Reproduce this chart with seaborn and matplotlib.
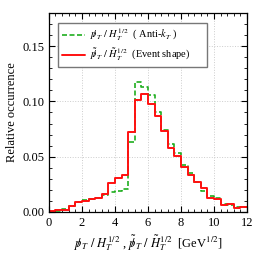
import matplotlib
matplotlib.use("Agg")
import matplotlib.pyplot as plt
from matplotlib.lines import Line2D
from matplotlib.ticker import MultipleLocator
import pandas as pd
import seaborn as sns

# bin edges: 0 .. 12 in steps of 0.4
bin_edges = [round(0.4 * i, 2) for i in range(31)]
bin_centres = [round(0.4 * i + 0.2, 2) for i in range(30)]

# anti-kT (green dashed)
antikt = [0.000, 0.001, 0.003, 0.005, 0.009, 0.011, 0.012, 0.013, 0.015, 0.018,
          0.019, 0.021, 0.063, 0.118, 0.113, 0.106, 0.090, 0.074, 0.061, 0.053,
          0.042, 0.035, 0.027, 0.019, 0.0145, 0.013, 0.0075, 0.0066, 0.004, 0.0045]
# event shape (red solid)
evshape = [0.001, 0.0015, 0.002, 0.0057, 0.009, 0.010, 0.012, 0.013, 0.016, 0.026,
           0.031, 0.033, 0.0725, 0.1015, 0.107, 0.098, 0.087, 0.0733, 0.058, 0.0506,
           0.0406, 0.033, 0.0275, 0.0212, 0.0127, 0.012, 0.006, 0.0075, 0.0036, 0.0045]

# slashed p
MPT = r"p\!\!\!/\,"
labels = [r"$%s_T\ /\ H_T^{1/2}$  ( Anti-$k_T$ )" % MPT,
          r"$\tilde{%s}_T\ /\ \tilde{H}_T^{1/2}$  (Event shape)      " % MPT]
xlabel = r"$%s_T\ /\ H_T^{1/2}$ , $\tilde{%s}_T\ /\ \tilde{H}_T^{1/2}$  [GeV$^{1/2}$]" % (MPT, MPT)

df = pd.DataFrame({"x": bin_centres + bin_centres,
                   "w": antikt + evshape,
                   "algo": ["antikt"] * len(antikt) + ["evshape"] * len(evshape)})

sns.set_style("ticks")
plt.rcParams["font.family"] = ["Liberation Serif", "DejaVu Serif"]
plt.rcParams["mathtext.fontset"] = "stix"
plt.rcParams["text.color"] = "black"
plt.rcParams["axes.labelcolor"] = "black"
plt.rcParams["xtick.color"] = "black"
plt.rcParams["ytick.color"] = "black"
plt.rcParams["axes.edgecolor"] = "black"

fig = plt.figure(figsize=(2.6, 2.6), dpi=100)
ax = fig.add_axes([0.188, 0.185, 0.762, 0.765])

sns.histplot(data=df[df.algo == "antikt"], x="x", weights="w", bins=bin_edges,
             element="step", fill=False, color="#1fae1f", linestyle=(0, (3, 1.5)),
             linewidth=1.2, ax=ax)
sns.histplot(data=df[df.algo == "evshape"], x="x", weights="w", bins=bin_edges,
             element="step", fill=False, color="#ff1010", linewidth=1.4, ax=ax)

ax.set_xlim(0, 12)
ax.set_ylim(0, 0.18)
ax.xaxis.set_major_locator(MultipleLocator(2))
ax.xaxis.set_minor_locator(MultipleLocator(0.4))
ax.yaxis.set_major_locator(MultipleLocator(0.05))
ax.yaxis.set_minor_locator(MultipleLocator(0.01))
ax.yaxis.set_major_formatter(plt.FormatStrFormatter("%.2f"))
ax.tick_params(which="both", direction="in", top=True, right=True, labelsize=9)
ax.tick_params(which="major", length=4, width=0.8)
ax.tick_params(which="minor", length=2, width=0.6)
ax.grid(True, which="major", linestyle=":", color="#cccccc", linewidth=0.7)
for s in ax.spines.values():
    s.set_linewidth(0.9)

ax.set_xlabel(xlabel, fontsize=9, labelpad=3)
ax.set_ylabel("Relative occurrence", fontsize=9, labelpad=3)

handles = [Line2D([], [], color="#1fae1f", linestyle=(0, (3, 1.5)), linewidth=1.2),
           Line2D([], [], color="#ff1010", linewidth=1.4)]
ax.legend(handles, labels, loc="upper left", bbox_to_anchor=(0.02, 0.975),
          fontsize=7.5, frameon=True, fancybox=False, edgecolor="#777777",
          framealpha=1, handlelength=2.2, handletextpad=0.5, borderpad=0.35,
          labelspacing=0.3)

fig.savefig("out.png", dpi=100)
